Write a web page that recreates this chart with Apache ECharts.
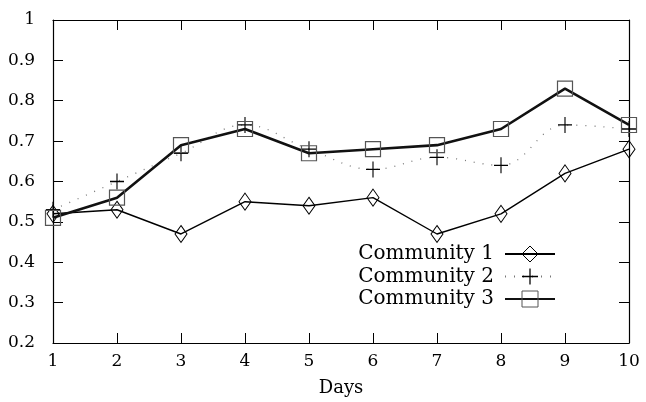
<!DOCTYPE html>
<html>
<head>
<meta charset="utf-8">
<script src="https://cdn.jsdelivr.net/npm/echarts@6/dist/echarts.min.js"></script>
<style>html,body{margin:0;padding:0;background:#fff}#c{width:646px;height:402px}</style>
</head>
<body>
<div id="c"></div>
<script>
const days = ['1','2','3','4','5','6','7','8','9','10'];
const community1 = [0.52, 0.53, 0.47, 0.55, 0.54, 0.56, 0.47, 0.52, 0.62, 0.68];
const community2 = [0.53, 0.60, 0.67, 0.74, 0.68, 0.63, 0.66, 0.64, 0.74, 0.73];
const community3 = [0.51, 0.56, 0.69, 0.73, 0.67, 0.68, 0.69, 0.73, 0.83, 0.74];
const seriesNames = ['Community 1', 'Community 2', 'Community 3'];

const FONT = 'DejaVu Serif';
const plusPath = 'path://M0,4.6H4.6V0H5.4V4.6H10V5.4H5.4V10H4.6V5.4H0Z';

const chart = echarts.init(document.getElementById('c'), null, {renderer: 'canvas'});
const axisCommon = {
  axisLine: {show: true, onZero: false, lineStyle: {color: '#000', width: 1.2}},
  axisTick: {show: true, inside: true, length: 10, lineStyle: {color: '#000', width: 1}},
  splitLine: {show: false}
};
chart.setOption({
  animation: false,
  backgroundColor: '#fff',
  grid: {left: 53, right: 17, top: 20, bottom: 58},
  legend: {
    orient: 'vertical',
    right: 85,
    top: 239,
    align: 'right',
    itemWidth: 50,
    itemHeight: 20,
    itemGap: 2.5,
    itemStyle: {borderWidth: 1},
    textStyle: {fontFamily: FONT, fontSize: 20, color: '#000', lineHeight: 20, padding: [0, 6, 0, 0]},
    data: seriesNames
  },
  xAxis: [
    Object.assign({
      type: 'category', data: days, boundaryGap: false, position: 'bottom',
      name: 'Days', nameLocation: 'middle', nameGap: 36,
      nameTextStyle: {fontFamily: FONT, fontSize: 18, color: '#000'},
      axisLabel: {fontFamily: FONT, fontSize: 17, color: '#000', margin: 10, interval: 0}
    }, axisCommon),
    Object.assign({
      type: 'category', data: days, boundaryGap: false, position: 'top',
      axisLabel: {show: false}
    }, axisCommon)
  ],
  yAxis: [
    Object.assign({
      type: 'value', min: 0.2, max: 1, interval: 0.1, position: 'left',
      axisLabel: {fontFamily: FONT, fontSize: 17, color: '#000', margin: 18,
        formatter: v => String(Math.round(v * 10) / 10)}
    }, axisCommon),
    Object.assign({
      type: 'value', min: 0.2, max: 1, interval: 0.1, position: 'right',
      axisLabel: {show: false}
    }, axisCommon)
  ],
  series: [
    {
      name: seriesNames[0], type: 'line', data: community1,
      xAxisIndex: 0, yAxisIndex: 0,
      symbol: 'diamond', symbolSize: [12, 17],
      itemStyle: {color: 'transparent', borderColor: '#000', borderWidth: 1},
      lineStyle: {color: '#000', width: 1.4},
      z: 2
    },
    {
      name: seriesNames[1], type: 'line', data: community2,
      xAxisIndex: 0, yAxisIndex: 0,
      smooth: 0.4,
      symbol: plusPath, symbolSize: [14, 16],
      itemStyle: {color: '#000', borderWidth: 0},
      lineStyle: {color: '#777', width: 1.3, type: [1, 8]},
      z: 2
    },
    {
      name: seriesNames[2], type: 'line', data: community3,
      xAxisIndex: 0, yAxisIndex: 0,
      symbol: 'rect', symbolSize: 15,
      itemStyle: {color: 'transparent', borderColor: '#555', borderWidth: 1.2},
      lineStyle: {color: '#111', width: 2.6},
      z: 3
    }
  ]
});
</script>
</body>
</html>
